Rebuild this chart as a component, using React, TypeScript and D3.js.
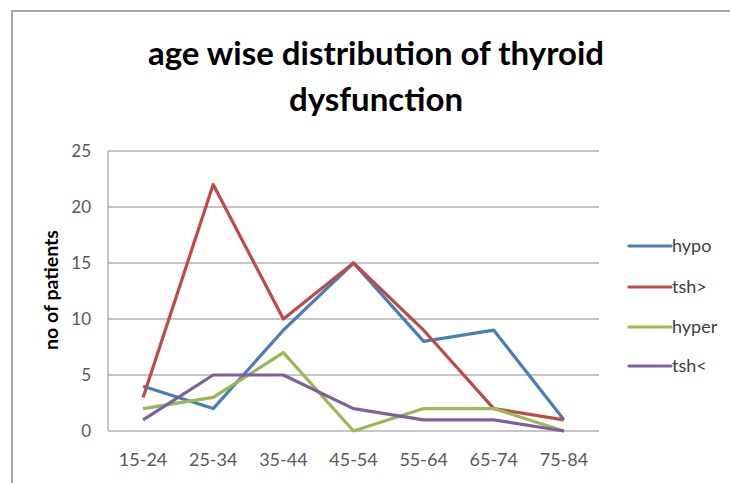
import React from 'react';
import { scaleBand, scaleLinear, line } from 'd3';

const width = 730;
const height = 483;
const margin = { top: 151, right: 131, bottom: 52, left: 108 };

const ageGroups = ['15-24', '25-34', '35-44', '45-54', '55-64', '65-74', '75-84'];
const hypo = [4, 2, 9, 15, 8, 9, 1];
const tshHigh = [3, 22, 10, 15, 9, 2, 1];
const hyper = [2, 3, 7, 0, 2, 2, 0];
const tshLow = [1, 5, 5, 2, 1, 1, 0];
const yTicks = [0, 5, 10, 15, 20, 25];

const series = [
  { name: 'hypo', values: hypo, color: '#4a7ebb' },
  { name: 'tsh>', values: tshHigh, color: '#be4b48' },
  { name: 'hyper', values: hyper, color: '#98b954' },
  { name: 'tsh<', values: tshLow, color: '#7d60a0' },
];

const font = 'Lato, "Open Sans", sans-serif';

export default function App() {
  const x = scaleBand<string>()
    .domain(ageGroups)
    .range([margin.left, width - margin.right]);
  const y = scaleLinear()
    .domain([0, 25])
    .range([height - margin.bottom, margin.top]);

  const lineGen = line<number>()
    .x((_, i) => (x(ageGroups[i]) ?? 0) + x.bandwidth() / 2)
    .y((d) => y(d));

  const legendY = [246, 287, 327, 366];

  return (
    <svg
      width={width}
      height={height}
      style={{ position: 'absolute', left: 0, top: 0, background: '#fff' }}
      fontFamily={font}
    >
      {/* frame */}
      <path d={`M12,${height} V11 H${width}`} fill="none" stroke="#a6a6a6" strokeWidth={2} />

      {/* title */}
      <text x={376} y={65} textAnchor="middle" fontSize={33} fontWeight="bold" fill="#000">
        age wise distribution of thyroid
      </text>
      <text x={376} y={111} textAnchor="middle" fontSize={33} fontWeight="bold" fill="#000">
        dysfunction
      </text>

      {/* grid */}
      {yTicks.map((t) => (
        <g key={t}>
          <line
            x1={margin.left}
            x2={width - margin.right}
            y1={y(t)}
            y2={y(t)}
            stroke="#b3b3b3"
            strokeWidth={1.5}
          />
          <text x={91} y={y(t) + 6} textAnchor="end" fontSize={17} fill="#595959">
            {t}
          </text>
        </g>
      ))}
      <line x1={margin.left} x2={margin.left} y1={margin.top} y2={y(0)} stroke="#b3b3b3" strokeWidth={1.5} />

      {ageGroups.map((g) => (
        <text
          key={g}
          x={(x(g) ?? 0) + x.bandwidth() / 2}
          y={466}
          textAnchor="middle"
          fontSize={18}
          fill="#595959"
        >
          {g}
        </text>
      ))}

      <text
        transform="translate(58,290) rotate(-90)"
        textAnchor="middle"
        fontSize={19.5}
        fontWeight="bold"
        fill="#000"
      >
        no of patients
      </text>

      {series.map((s) => (
        <path
          key={s.name}
          d={lineGen(s.values) ?? ''}
          fill="none"
          stroke={s.color}
          strokeWidth={3.2}
          strokeLinejoin="round"
        />
      ))}

      {/* legend */}
      {series.map((s, i) => (
        <g key={s.name}>
          <line x1={629} x2={671} y1={legendY[i]} y2={legendY[i]} stroke={s.color} strokeWidth={3.2} strokeLinecap="round" />
          <text x={672} y={legendY[i] + 6} fontSize={18} fill="#404040">
            {s.name}
          </text>
        </g>
      ))}
    </svg>
  );
}
